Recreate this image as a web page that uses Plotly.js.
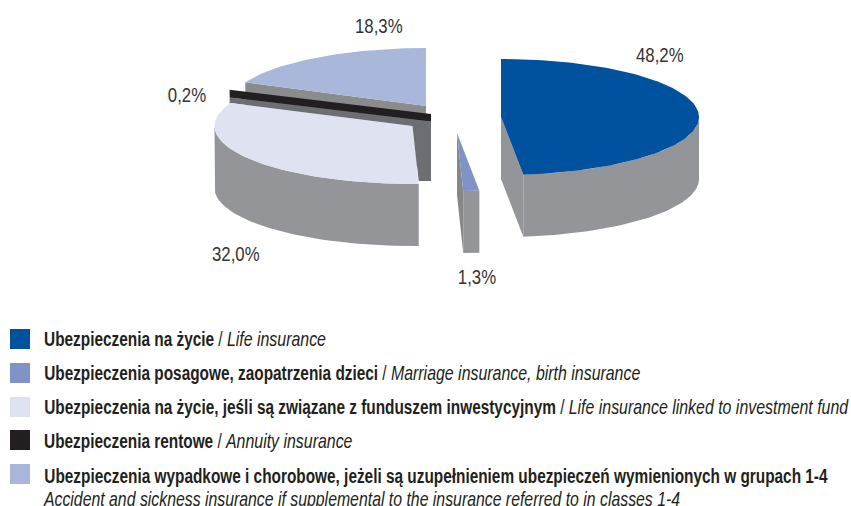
<!DOCTYPE html>
<html><head><meta charset="utf-8">
<script src="https://cdn.plot.ly/plotly-3.0.1.min.js"></script>
<style>html,body{margin:0;padding:0;background:#fff}#c{width:851px;height:506px}</style>
</head><body><div id="c"></div>
<script>
// ---- data ----
var shares = [48.2, 1.3, 32.0, 0.2, 18.3];
var topColors = ['#00529f', '#7f93c6', '#dfe3f1', '#231f20', '#a9b7da'];
var boldLabels = [
  'Ubezpieczenia na życie',
  'Ubezpieczenia posagowe, zaopatrzenia dzieci',
  'Ubezpieczenia na życie, jeśli są związane z funduszem inwestycyjnym',
  'Ubezpieczenia rentowe',
  'Ubezpieczenia wypadkowe i chorobowe, jeżeli są uzupełnieniem ubezpieczeń wymienionych w grupach 1-4'
];
var italicLabels = [
  'Life insurance',
  'Marriage insurance, birth insurance',
  'Life insurance linked to investment fund',
  'Annuity insurance',
  'Accident and sickness insurance if supplemental to the insurance referred to in classes 1-4'
];

// ---- drawing geometry (page pixels; the axes are mapped 1:1 to the page) ----
var RX = 198, RY = 58, DEPTH = 62;
var apexes = [[501,117],[457,133],[412.5,126],[431,117.8],[426,106]];
var labelPos = [[660,54],[477,276],[236,253],[187,94],[379,25]];
var legendY = [338,372,406,440,476];
var swatchY = [339,373,407,440,474];
var FONT = '"Liberation Sans",sans-serif';
var WALL = '#939598', WALL_BACK = '#8a8b8d', WALL_DARK = '#6d6e71', TXT = '#231f20';
var SQUEEZE_LEGEND = 0.769, SQUEEZE_VALUE = 0.8;

var spans = [], acc = 0;
shares.forEach(function(v){ spans.push([acc*3.6,(acc+v)*3.6]); acc += v; });

function pt(i,deg,dy,rx,ry){
  var a = deg*Math.PI/180;
  return [apexes[i][0]+(rx||RX)*Math.sin(a), apexes[i][1]-(ry||RY)*Math.cos(a)+(dy||0)];
}
function arc(i,t0,t1,dy){
  var out=[], n=Math.max(2,Math.ceil(Math.abs(t1-t0)/1.5));
  for(var k=0;k<=n;k++) out.push(pt(i,t0+(t1-t0)*k/n,dy));
  return out;
}
function poly(points,color){
  var xs=points.map(function(p){return p[0];}), ys=points.map(function(p){return p[1];});
  xs.push(xs[0]); ys.push(ys[0]);
  return {type:'scatter',mode:'lines',x:xs,y:ys,fill:'toself',fillcolor:color,
    line:{color:color,width:0},hoverinfo:'skip',showlegend:false};
}
function topFace(i){ return poly([apexes[i]].concat(arc(i,spans[i][0],spans[i][1],0)),topColors[i]); }
function outerWall(i){
  var a=Math.max(spans[i][0],90), b=Math.min(spans[i][1],270);
  return poly(arc(i,a,b,0).concat(arc(i,b,a,DEPTH)),WALL);
}
function cutFace(i,deg,color){
  var r=pt(i,deg,0);
  return poly([apexes[i],r,[r[0],r[1]+DEPTH],[apexes[i][0],apexes[i][1]+DEPTH]],color);
}

var traces=[];
// back slice (18,3%)
traces.push(cutFace(4,spans[4][0],WALL_BACK));
traces.push(topFace(4));

// thin slice (0,2%): drawn as a band along its mid angle, with a wider reach and a minimum thickness
var midT=(spans[3][0]+spans[3][1])/2, HALF=3.8;
var rim=pt(3,midT,0,220,60), ap=apexes[3];
var lightEnd=pt(2,spans[2][1],0), lightEndBottom=pt(2,spans[2][0],0);
traces.push(poly([
  [rim[0],rim[1]+HALF],[ap[0],ap[1]+HALF],[ap[0],ap[1]+HALF+59.5],
  [lightEndBottom[0],ap[1]+HALF+59.5],apexes[2],lightEnd,[rim[0],lightEnd[1]+1]
],WALL_DARK));
traces.push(poly([[rim[0],rim[1]-HALF],[ap[0],ap[1]-HALF],[ap[0],ap[1]+HALF],[rim[0],rim[1]+HALF]],topColors[3]));

// large light slice (32,0%)
traces.push(outerWall(2));
traces.push(topFace(2));

// small slice (1,3%)
traces.push(cutFace(1,spans[1][1],'#868789'));
traces.push(outerWall(1));
traces.push(topFace(1));

// main slice (48,2%)
traces.push(cutFace(0,spans[0][1],WALL));
traces.push(outerWall(0));
traces.push(topFace(0));

// legend swatches
traces.push({type:'scatter',mode:'markers',
  x:swatchY.map(function(){return 20;}),y:swatchY,
  marker:{symbol:'square',size:20,color:topColors,line:{width:0}},hoverinfo:'skip',showlegend:false});

function ital(s){ return '<span style="font-size:20.7px"><i>'+s+'</i></span>'; }
var ann=[];
shares.forEach(function(v,i){
  ann.push({x:labelPos[i][0],y:labelPos[i][1],xref:'x',yref:'y',showarrow:false,borderpad:0,
    text:v.toFixed(1).replace('.',',')+'%',font:{family:FONT,size:21,color:'#333333'}});
});
boldLabels.forEach(function(b,i){
  var t='<b>'+b+'</b>';
  if(i<4) t+=' / '+ital(italicLabels[i]);
  ann.push({x:43,y:legendY[i],xref:'x',yref:'y',xanchor:'left',showarrow:false,borderpad:0,
    text:t,font:{family:FONT,size:20,color:TXT}});
});
ann.push({x:40.5,y:498,xref:'x',yref:'y',xanchor:'left',showarrow:false,borderpad:0,
  text:'<i>'+italicLabels[4]+'</i>',font:{family:FONT,size:20.6,color:TXT}});

Plotly.newPlot('c',traces,{
  width:851,height:506,margin:{l:0,r:0,t:0,b:0},
  paper_bgcolor:'#fff',plot_bgcolor:'#fff',showlegend:false,
  xaxis:{range:[0,851],visible:false,fixedrange:true},
  yaxis:{range:[506,0],visible:false,fixedrange:true},
  annotations:ann
},{displayModeBar:false,staticPlot:true}).then(function(){
  // narrow the type, since no condensed face is installed
  document.querySelectorAll('.annotation-text').forEach(function(el,i){
    el.style.transformBox='fill-box';
    el.style.transformOrigin=i<shares.length?'center':'left center';
    el.style.transform='scaleX('+(i<shares.length?SQUEEZE_VALUE:SQUEEZE_LEGEND)+')';
  });
});
</script></body></html>
